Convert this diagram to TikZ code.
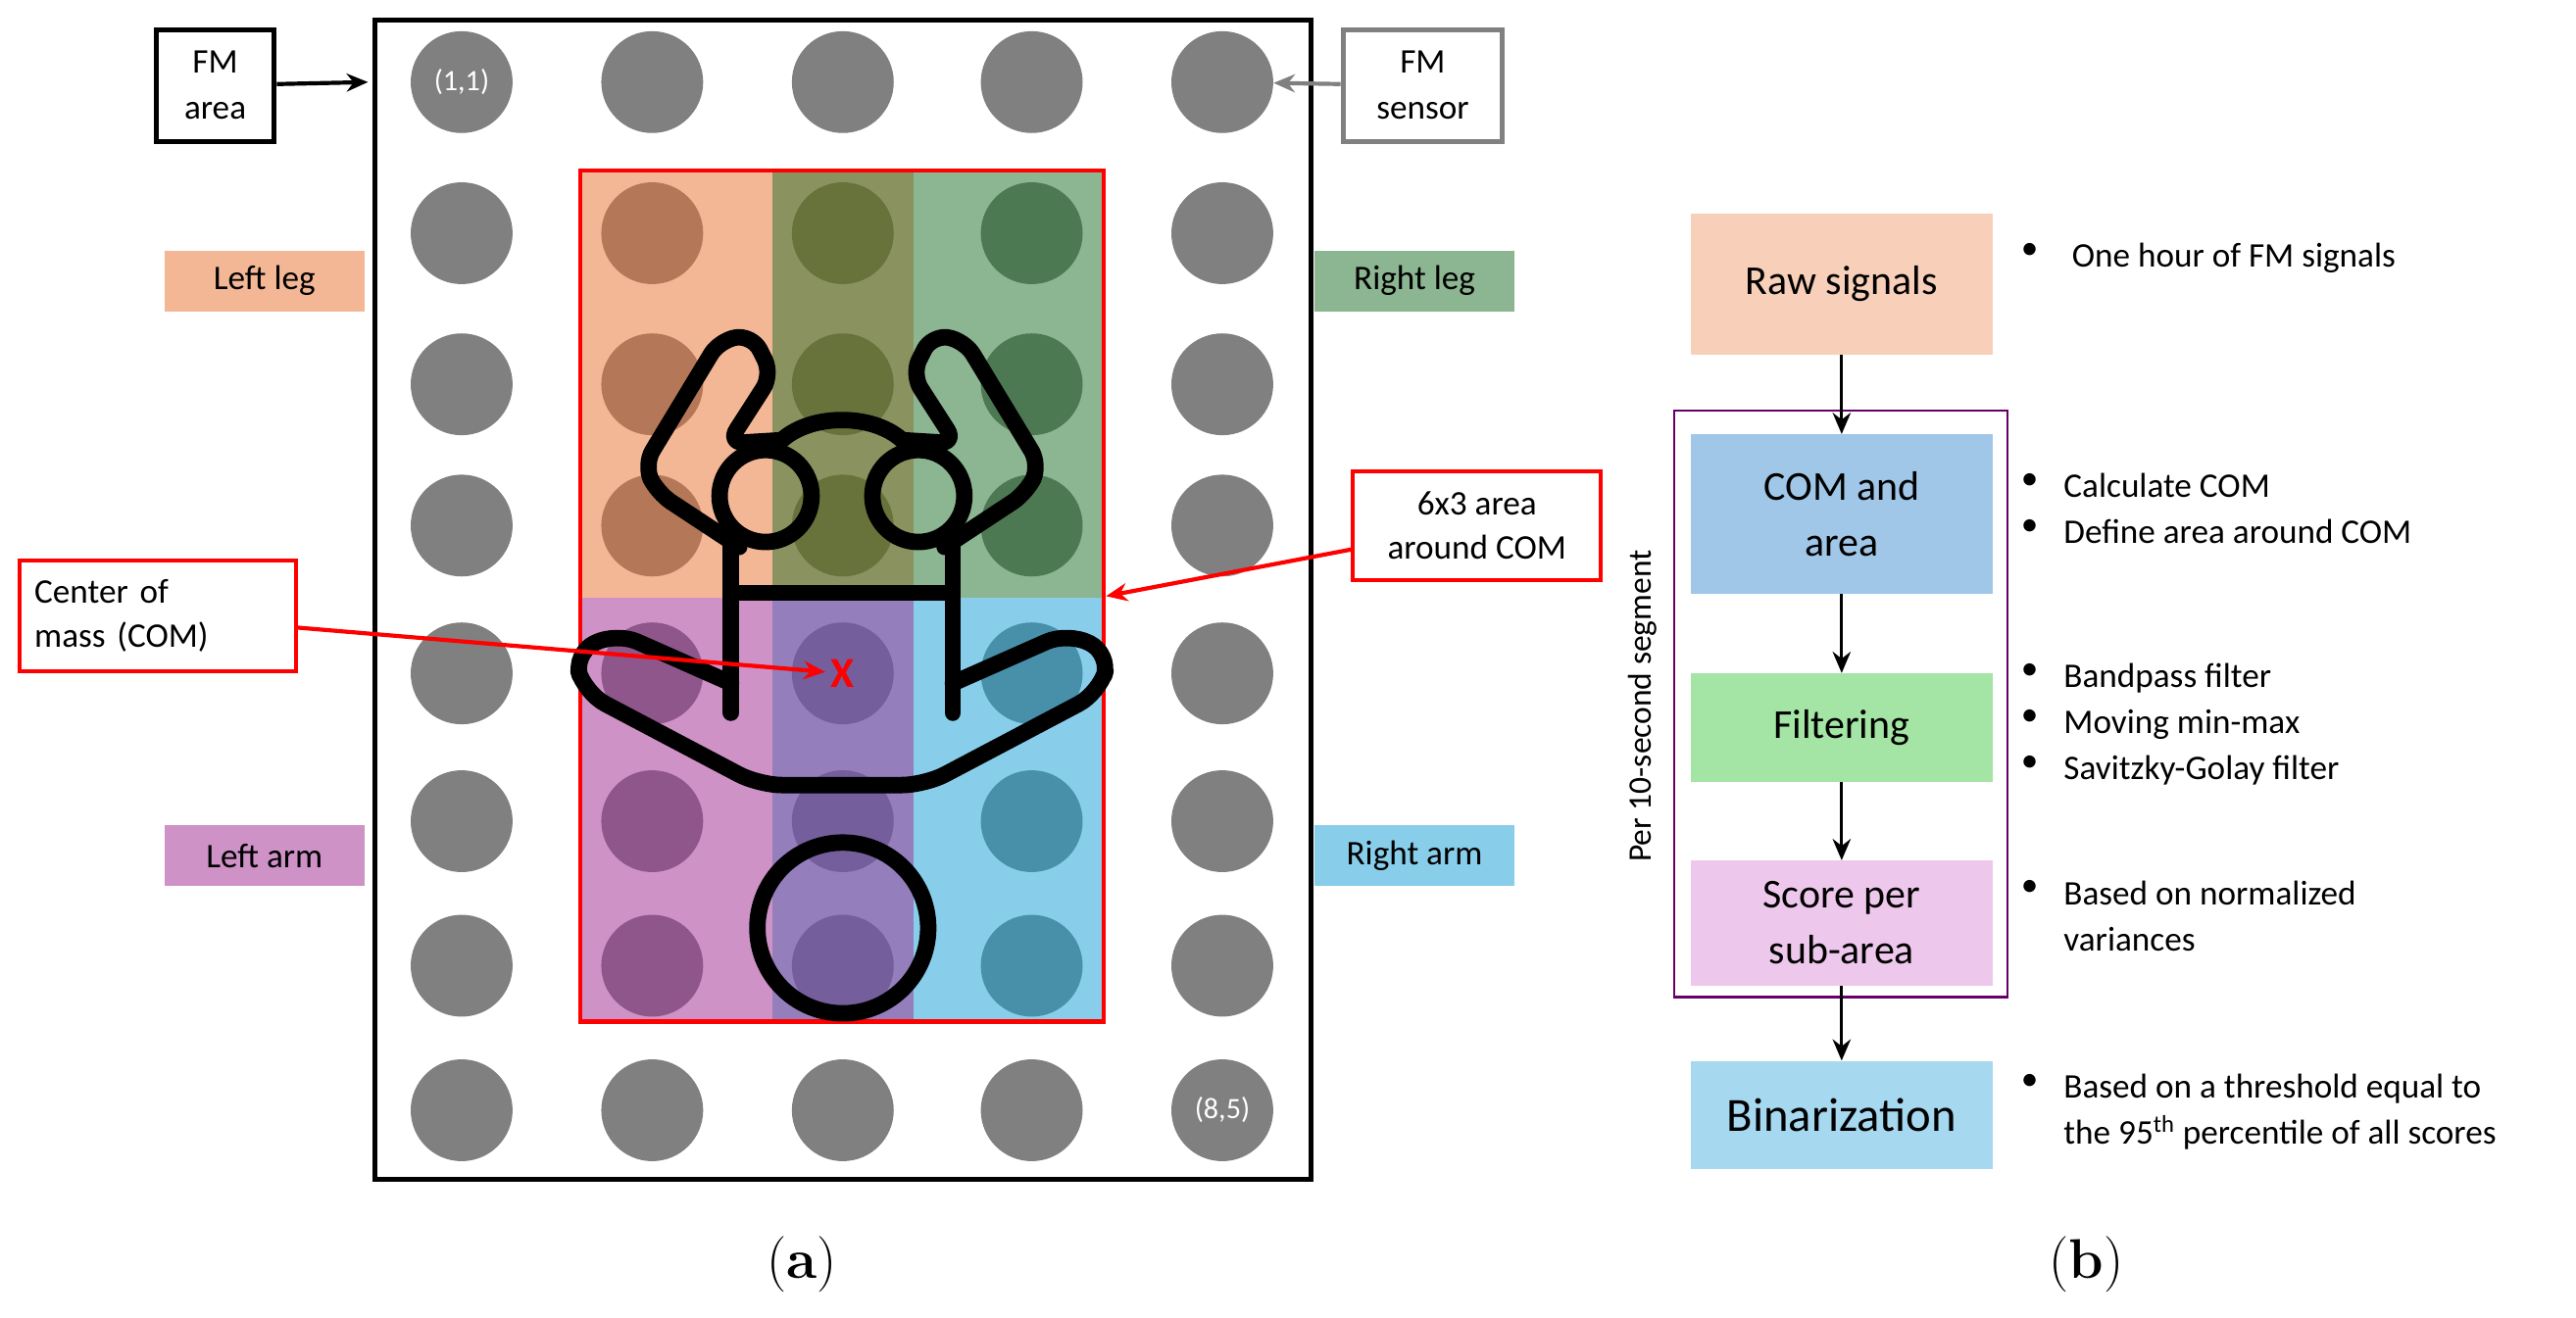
\documentclass[tikz,border=0pt]{standalone}
\usepackage{fontspec}
\usetikzlibrary{arrows.meta}
\setmainfont{Carlito}
\newfontfamily\serifx{Latin Modern Roman}
\definecolor{cor}{RGB}{243,183,150}\definecolor{cord}{RGB}{180,120,88}
\definecolor{col}{RGB}{138,147,96}\definecolor{cold}{RGB}{104,115,60}
\definecolor{cgr}{RGB}{140,181,145}\definecolor{cgrd}{RGB}{76,120,82}
\definecolor{cpk}{RGB}{206,146,198}\definecolor{cpkd}{RGB}{142,86,138}
\definecolor{cpu}{RGB}{148,126,188}\definecolor{cpud}{RGB}{116,94,156}
\definecolor{cbl}{RGB}{136,206,234}\definecolor{cbld}{RGB}{72,144,170}
\definecolor{sraw}{RGB}{248,208,185}\definecolor{scom}{RGB}{160,199,232}
\definecolor{sfil}{RGB}{164,228,164}\definecolor{ssco}{RGB}{238,200,236}
\definecolor{sbin}{RGB}{166,216,240}\definecolor{dotg}{RGB}{128,128,128}
\begin{document}
\begin{tikzpicture}[x=1pt,y=-1pt,
  dot/.style={circle,fill=dotg,minimum size=62pt,inner sep=0pt},
  lab/.style={font=\fontsize{21}{23}\selectfont,align=center,inner sep=0pt,minimum height=37pt,minimum width=122pt},
  box/.style={draw=red,line width=2.5pt,fill=white,font=\fontsize{21}{27}\selectfont},
  stp/.style={minimum width=184pt,align=center,font=\fontsize{25}{30}\selectfont,inner sep=0pt},
  bul/.style={anchor=north west,font=\fontsize{21}{28}\selectfont,align=left,inner sep=0pt},
  baby/.style={line width=10pt,line cap=round,line join=round,rounded corners=12pt},
  arr/.style={-{Stealth[length=13pt,width=11pt]},line width=2.5pt}]
\useasboundingbox (0,0) rectangle (1568,802);
\fill[white] (0,0) rectangle (1568,802);
% frame
\node[draw,line width=3pt,minimum width=570pt,minimum height=706pt,inner sep=0pt] (frame) at (513,365) {};
% dots
\foreach \r/\y in {1/50,2/142,3/234,4/320,5/410,6/500,7/588,8/676}
 \foreach \c/\x in {1/281,2/397,3/513,4/628,5/744}
  \node[dot] (d\r\c) at (\x,\y) {};
\node[text=white,font=\fontsize{18}{20}\selectfont] at (d11) {(1,1)};
\node[text=white,font=\fontsize{18}{20}\selectfont] at (d85) {(8,5)};
% colored regions
\fill[cor] (353,104) rectangle (470,364);
\fill[col] (470,104) rectangle (556,364);
\fill[cgr] (556,104) rectangle (672,364);
\fill[cpk] (353,364) rectangle (470,622);
\fill[cpu] (470,364) rectangle (556,622);
\fill[cbl] (556,364) rectangle (672,622);
\foreach \y in {142,234,320}{
  \fill[cord] (397,\y) circle (31); \fill[cold] (513,\y) circle (31); \fill[cgrd] (628,\y) circle (31);}
\foreach \y in {410,500,588}{
  \fill[cpkd] (397,\y) circle (31); \fill[cpud] (513,\y) circle (31); \fill[cbld] (628,\y) circle (31);}
\node[draw=red,line width=2.5pt,minimum width=319pt,minimum height=518pt,inner sep=0pt] (area) at (512.5,363) {};
% baby
\draw[baby,rounded corners=0pt] (445,330) -- (445,434);
\draw[baby,rounded corners=0pt] (580,330) -- (580,434);
\draw[line width=10pt] (445,361) -- (580,361);
\draw[baby,rounded corners=14pt] (445,416) -- (375,385) -- (349,398) -- (356,422) -- (462,478) -- (563,478) -- (669,422) -- (676,398) -- (650,385) -- (580,416);
\draw[line width=10pt] (513,565) circle (52);
\draw[baby,rounded corners=10pt] (476,268) -- (443,270) -- (470,228) -- (458,204) -- (438,207) -- (392,283) -- (400,300) -- (450,333);
\draw[baby,rounded corners=10pt] (549,268) -- (582,270) -- (555,228) -- (567,204) -- (587,207) -- (633,283) -- (625,300) -- (575,333);
\draw[line width=10pt] (466,302) circle (28) (559,302) circle (28);
\draw[line width=10pt] (477,267) .. controls (495,252) and (530,252) .. (548,267);
\node[text=red,font=\bfseries\fontsize{26}{28}\selectfont] (x) at (513,410) {X};
% labels
\node[lab,fill=cor] at (161,171) {Left leg};
\node[lab,fill=cgr] at (861,171) {Right leg};
\node[lab,fill=cpk] at (161,521) {Left arm};
\node[lab,fill=cbl] at (861,521) {Right arm};
\node[draw,line width=3pt,minimum width=72pt,minimum height=68pt,align=center,font=\fontsize{21}{28}\selectfont,inner sep=0pt] (fma) at (131,52) {FM\\area};
\draw[arr] (fma) -- (224,50);
\node[draw=gray,line width=3pt,minimum width=97pt,minimum height=68pt,align=center,font=\fontsize{21}{28}\selectfont,inner sep=0pt] (fms) at (866,52) {FM\\sensor};
\draw[arr,gray] (fms) -- (d15);
\node[box,minimum width=168pt,minimum height=67pt,inner sep=0pt,text width=150pt,align=left] (com) at (96,375) {Center of\\mass (COM)};
\draw[arr,red] (com) -- (x);
\node[box,minimum width=151pt,minimum height=66pt,inner sep=0pt,align=center] (six) at (899,320) {6x3 area\\around COM};
\draw[arr,red] (six) -- (area.east);
% right panel
\node[stp,fill=sraw,minimum height=86pt] (s1) at (1121,173) {Raw signals};
\node[stp,fill=scom,minimum height=97pt,font=\fontsize{25}{34}\selectfont] (s2) at (1121,313) {COM and\\area};
\node[stp,fill=sfil,minimum height=66pt] (s3) at (1121,443) {Filtering};
\node[stp,fill=ssco,minimum height=76pt,font=\fontsize{25}{34}\selectfont] (s4) at (1121,562) {Score per\\sub-area};
\node[stp,fill=sbin,minimum height=66pt,font=\fontsize{29}{34}\selectfont] (s5) at (1121,679) {Binarization};
\draw[violet!80!black,line width=1.5pt] (1019,250) rectangle (1222,607);
\node[rotate=90,font=\fontsize{20}{22}\selectfont] at (1000,430) {Per 10-second segment};
\draw[arr,line width=1.8pt] (s1) -- (s2);
\draw[arr,line width=1.8pt] (s2) -- (s3);
\draw[arr,line width=1.8pt] (s3) -- (s4);
\draw[arr,line width=1.8pt] (s4) -- (s5);
\node[bul] at (1230,148) {•}; \node[bul] at (1261,148) {One hour of FM signals};
\node[bul] at (1230,288) {•\\•};
\node[bul] at (1256,288) {Calculate COM\\Define area around COM};
\node[bul] at (1230,404) {•\\•\\•};
\node[bul] at (1256,404) {Bandpass filter\\Moving min-max\\Savitzky-Golay filter};
\node[bul] at (1230,536) {•};
\node[bul] at (1256,536) {Based on normalized\\variances};
\node[bul] at (1230,654) {•};
\node[bul] at (1256,654) {Based on a threshold equal to\\the 95\textsuperscript{th} percentile of all scores};
\node[font=\serifx\fontsize{34}{36}\selectfont] at (488,770) {(\textbf{a})};
\node[font=\serifx\fontsize{34}{36}\selectfont] at (1270,770) {(\textbf{b})};
\end{tikzpicture}
\end{document}
